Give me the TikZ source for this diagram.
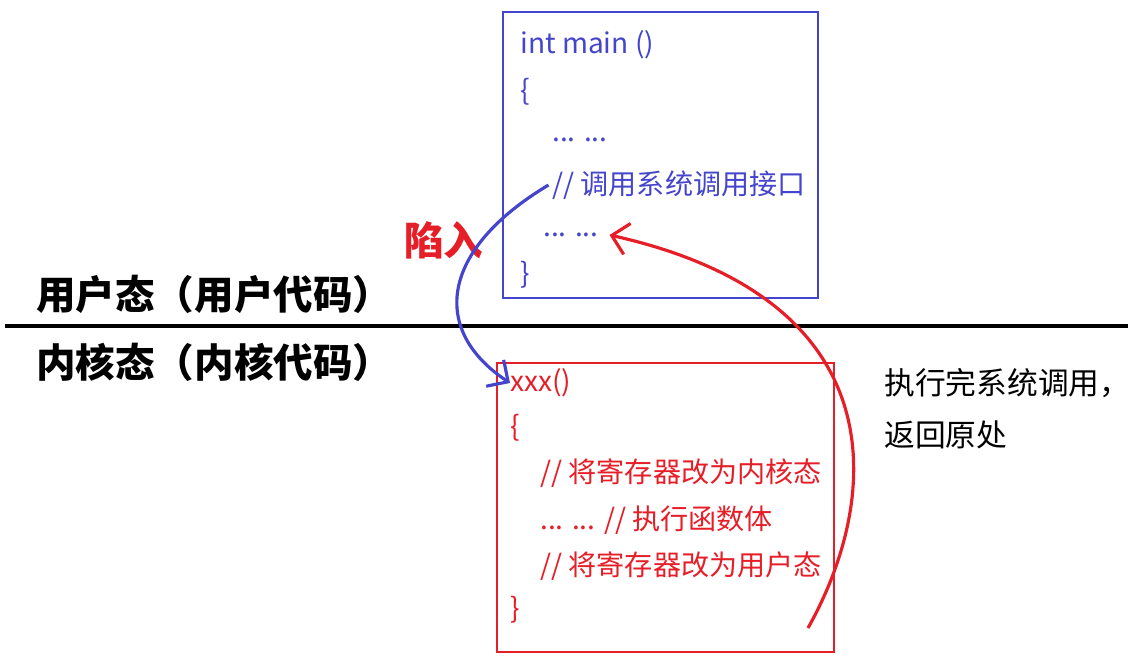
\documentclass[tikz,border=0pt]{standalone}
\usepackage{fontspec}
\setmainfont{Noto Sans CJK SC}
\usetikzlibrary{arrows.meta}
\definecolor{ublue}{RGB}{68,68,204}
\definecolor{kred}{RGB}{230,30,40}
\tikzset{
  code/.style={anchor=west, inner sep=0pt, font=\fontsize{16}{18}\selectfont},
  modelabel/.style={anchor=west, inner sep=0pt, font=\fontsize{22.5}{25}\selectfont\bfseries},
  note/.style={anchor=west, inner sep=0pt, font=\fontsize{17.5}{20}\selectfont},
}
\begin{document}
\begin{tikzpicture}[x=0.02cm, y=-0.02cm]
  \useasboundingbox (0,0) rectangle (1128,664);

  % user side
  \draw[ublue, line width=1.5pt] (503,12) rectangle (818,298);
  \node[code, ublue] (main) at (520,45) {int main ()};
  \node[code, ublue] (ulb) at (520,92) {\{};
  \node[code, ublue] (udots) at (552,140) {... ...};
  \node[code, ublue] (call) at (552,185) {// 调用系统调用接口};
  \node[code, ublue] (back) at (543,235) {... ...};
  \node[code, ublue] (urb) at (520,275) {\}};

  % kernel side
  \draw[kred, line width=1.5pt] (497,363) rectangle (834,652);
  \node[code, kred] (xxx) at (510,383) {xxx()};
  \node[code, kred] (klb) at (510,428) {\{};
  \node[code, kred] (k1) at (540,473) {// 将寄存器改为内核态};
  \node[code, kred] (k2) at (540,520) {... ... // 执行函数体};
  \node[code, kred] (k3) at (540,566) {// 将寄存器改为用户态};
  \node[code, kred] (krb) at (510,610) {\}};

  % boundary
  \draw[line width=2.2pt] (5,326) -- (1128,326);
  \node[modelabel] (user) at (36,294) {用户态（用户代码）};
  \node[modelabel] (kernel) at (36,362) {内核态（内核代码）};

  \node[modelabel, kred] (trap) at (404,240) {陷入};
  \node[note] (ret1) at (884,383) {执行完系统调用，};
  \node[note] (ret2) at (884,435) {返回原处};

  % arrows
  \draw[ublue, line width=1.8pt, -{Straight Barb[length=9pt]}]
    ([xshift=-2pt]call.west) .. controls (440,250) and (430,330) .. (xxx.west);
  \coordinate (rstart) at (808,628);
  \draw[kred, line width=1.8pt, -{Straight Barb[length=9pt]}]
    (rstart) .. controls (880,500) and (900,300) .. ([xshift=6pt]back.east);
\end{tikzpicture}
\end{document}
